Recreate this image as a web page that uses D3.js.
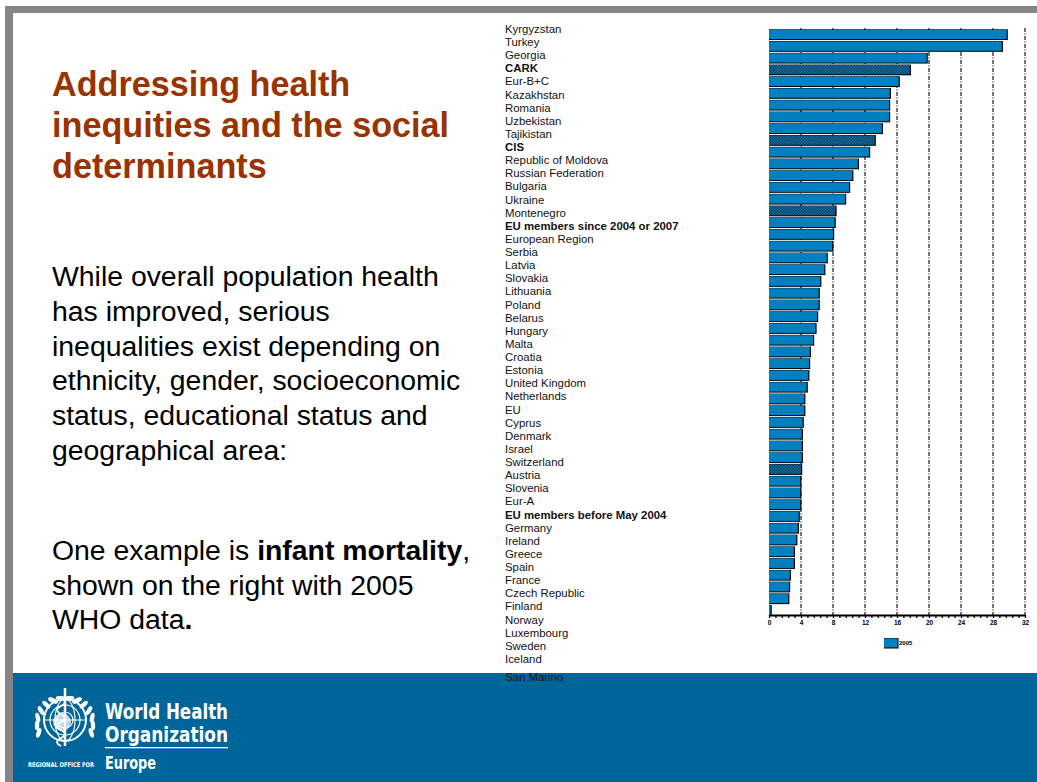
<!DOCTYPE html>
<html lang="en">
<head>
<meta charset="UTF-8">
<title>Addressing health inequities</title>
<style>
  html, body { margin: 0; padding: 0; background: #fff; }
  svg { display: block; font-family: "Liberation Sans", Arial, sans-serif; }
  .lbl { font-size: 11.4px; fill: #111; }
  .lbl.bold { font-weight: bold; }
  .axis text { font-size: 6.5px; font-weight: bold; }
</style>
</head>
<body>
<svg id="slide" width="1037" height="782"></svg>
<script src="https://cdnjs.cloudflare.com/ajax/libs/d3/7.8.5/d3.min.js"></script>
<script>
// infant mortality per 1000 live births, 2005 (WHO)
const countries = [
  "Kyrgyzstan", "Turkey", "Georgia", "CARK", "Eur-B+C", "Kazakhstan", "Romania",
  "Uzbekistan", "Tajikistan", "CIS", "Republic of Moldova", "Russian Federation",
  "Bulgaria", "Ukraine", "Montenegro", "EU members since 2004 or 2007",
  "European Region", "Serbia", "Latvia", "Slovakia", "Lithuania", "Poland",
  "Belarus", "Hungary", "Malta", "Croatia", "Estonia", "United Kingdom",
  "Netherlands", "EU", "Cyprus", "Denmark", "Israel", "Switzerland", "Austria",
  "Slovenia", "Eur-A", "EU members before May 2004", "Germany", "Ireland",
  "Greece", "Spain", "France", "Czech Republic", "Finland", "Norway",
  "Luxembourg", "Sweden", "Iceland", "San Marino"
];
const values2005 = [
  29.7, 29.1, 19.7, 17.6, 16.2, 15.1, 15.0, 15.0, 14.1, 13.2, 12.5, 11.1,
  10.4, 10.0, 9.5, 8.3, 8.2, 8.0, 7.9, 7.2, 6.9, 6.4, 6.2, 6.2, 6.0, 5.8,
  5.5, 5.1, 5.0, 4.9, 4.7, 4.4, 4.4, 4.2, 4.1, 4.1, 4.1, 4.0, 3.9, 3.9,
  3.9, 3.7, 3.6, 3.4, 3.1, 3.1, 2.6, 2.5, 2.4, 0.2
];
const aggregates = ["CARK", "CIS", "EU members since 2004 or 2007", "EU members before May 2004"];
const xTicks = [0, 4, 8, 12, 16, 20, 24, 28, 32];
const legendLabel = "2005";

const titleLines = ["Addressing health", "inequities and the social", "determinants"];
const bodyLines = [
  "While overall population health", "has improved, serious",
  "inequalities exist depending on", "ethnicity, gender, socioeconomic",
  "status, educational status and", "geographical area:"
];

const svg = d3.select("#slide");
const BLUE = "#0080c0";

// pattern for aggregate bars
const defs = svg.append("defs");
const pat = defs.append("pattern").attr("id", "checker")
  .attr("width", 3).attr("height", 3).attr("patternUnits", "userSpaceOnUse");
pat.append("rect").attr("width", 3).attr("height", 3).attr("fill", "#0a74ad");
pat.append("rect").attr("width", 1.5).attr("height", 1.5).attr("fill", "#123b5c");
pat.append("rect").attr("x", 1.5).attr("y", 1.5).attr("width", 1.5).attr("height", 1.5).attr("fill", "#123b5c");

// slide frame
svg.append("rect").attr("x", 5).attr("y", 6).attr("width", 1032).attr("height", 7).attr("fill", "#858585");
svg.append("rect").attr("x", 5).attr("y", 6).attr("width", 8).attr("height", 776).attr("fill", "#858585");
svg.append("rect").attr("x", 13).attr("y", 673).attr("width", 1024).attr("height", 109).attr("fill", "#006699");

// title and body text
svg.append("g").selectAll("text").data(titleLines).join("text")
  .attr("x", 52).attr("y", (d, i) => 96 + i * 41)
  .attr("fill", "#993300").attr("font-size", 34.2).attr("font-weight", "bold")
  .text(d => d);

svg.append("g").selectAll("text").data(bodyLines).join("text")
  .attr("x", 52).attr("y", (d, i) => 286 + i * 34.8)
  .attr("fill", "#000").attr("font-size", 28.4)
  .text(d => d);

const ex = svg.append("g").attr("font-size", 28.4).attr("fill", "#000");
const l1 = ex.append("text").attr("x", 52).attr("y", 560);
l1.append("tspan").text("One example is ");
l1.append("tspan").attr("font-weight", "bold").text("infant mortality");
l1.append("tspan").text(",");
ex.append("text").attr("x", 52).attr("y", 595).text("shown on the right with 2005");
const l3 = ex.append("text").attr("x", 52).attr("y", 629);
l3.append("tspan").text("WHO data");
l3.append("tspan").attr("font-weight", "bold").text(".");

// chart scales
const x = d3.scaleLinear().domain([0, 32]).range([769, 1025]);
const y = d3.scaleBand().domain(countries).range([29.3, 615.5]).paddingInner(0.12).paddingOuter(0);
const yLbl = d3.scalePoint().domain(countries).range([29, 672]);

// dashed gridlines
svg.append("g").selectAll("line").data(xTicks.slice(1)).join("line")
  .attr("x1", d => x(d)).attr("x2", d => x(d))
  .attr("y1", 28).attr("y2", 615)
  .attr("stroke", "#000").attr("stroke-width", 1.1)
  .attr("stroke-dasharray", "4,1.5,1,1.5");

// bars: black shadow then fill
const bars = svg.append("g").selectAll("g").data(countries).join("g");
bars.append("rect")
  .attr("x", x(0)).attr("y", d => y(d))
  .attr("width", (d, i) => x(values2005[i]) - x(0) + 1.2)
  .attr("height", y.bandwidth() + 0.4)
  .attr("fill", "#000");
bars.append("rect")
  .attr("x", x(0)).attr("y", d => y(d) + 0.4)
  .attr("width", (d, i) => x(values2005[i]) - x(0))
  .attr("height", y.bandwidth() - 1)
  .attr("fill", d => aggregates.includes(d) ? "url(#checker)" : BLUE);

// category labels (list is spaced more loosely than the bars)
svg.append("g").selectAll("text").data(countries).join("text")
  .attr("class", d => aggregates.includes(d) ? "lbl bold" : "lbl")
  .attr("x", 505)
  .attr("y", (d, i) => yLbl(d) + 4 + (i === countries.length - 1 ? 5 : 0))
  .text(d => d);

// x axis with minor ticks
const minor = d3.range(0, 32.01, 0.8);
svg.append("g").attr("transform", "translate(0,615)")
  .call(d3.axisBottom(x).tickValues(minor).tickSize(3).tickFormat(""))
  .call(g => g.select(".domain").remove())
  .call(g => g.selectAll(".tick line").attr("stroke-width", 1.3));
const ax = svg.append("g").attr("class", "axis").attr("transform", "translate(0,615)")
  .call(d3.axisBottom(x).tickValues(xTicks).tickSize(0).tickPadding(5).tickFormat(d3.format("d")));
ax.select(".domain").attr("stroke-width", 2);

// legend
const lg = svg.append("g").attr("transform", "translate(884,638)");
lg.append("rect").attr("width", 14.5).attr("height", 10.5).attr("fill", "#000");
lg.append("rect").attr("y", 0.4).attr("width", 13.5).attr("height", 9).attr("fill", BLUE);
lg.append("text").attr("x", 15).attr("y", 7).attr("font-size", 6).attr("font-weight", "bold").text(legendLabel);

// WHO logo
const logo = svg.append("g").attr("fill", "none").attr("stroke", "#fff");
const cx = 65, cy = 720;
logo.append("circle").attr("cx", cx).attr("cy", cy).attr("r", 21).attr("stroke-width", 2);
[8, 15].forEach(r => logo.append("circle").attr("cx", cx).attr("cy", cy).attr("r", r).attr("stroke-width", 1.2));
logo.append("ellipse").attr("cx", cx).attr("cy", cy).attr("rx", 10).attr("ry", 21).attr("stroke-width", 1.1);
logo.append("line").attr("x1", cx - 21).attr("x2", cx + 21).attr("y1", cy).attr("y2", cy).attr("stroke-width", 1.1);
logo.append("circle").attr("cx", cx - 3).attr("cy", cy + 2).attr("r", 9).attr("fill", "#fff").attr("opacity", 0.75).attr("stroke", "none");
logo.append("line").attr("x1", cx).attr("x2", cx).attr("y1", 688).attr("y2", 746).attr("stroke-width", 2.5);
logo.append("path").attr("d", `M${cx - 4},${cy - 22} q8,4 0,8 q-8,4 0,8 q8,4 0,8 q-8,4 0,8 q8,4 0,8 q-8,4 0,8`).attr("stroke-width", 1.8);
// laurel leaves
[-1, 1].forEach(s => {
  d3.range(0, 9).forEach(k => {
    const a = (200 - k * 17) * Math.PI / 180;
    const lx = cx + s * -Math.cos(a) * 28, ly = cy + 4 - Math.sin(a) * 26;
    logo.append("ellipse").attr("cx", lx).attr("cy", ly).attr("rx", 2.2).attr("ry", 5)
      .attr("fill", "#fff").attr("stroke", "none")
      .attr("transform", `rotate(${s * (k * 17 - 20)},${lx},${ly})`);
  });
});

const wt = svg.append("g").attr("fill", "#fff").attr("font-weight", "bold")
  .attr("font-family", "'Liberation Sans Narrow', 'DejaVu Sans Condensed', 'Liberation Sans', sans-serif");
wt.append("text").attr("x", 105).attr("y", 719).attr("font-size", 21).attr("textLength", 123).attr("lengthAdjust", "spacingAndGlyphs").text("World Health");
wt.append("text").attr("x", 105).attr("y", 742).attr("font-size", 21).attr("textLength", 123).attr("lengthAdjust", "spacingAndGlyphs").text("Organization");
svg.append("rect").attr("x", 105).attr("y", 747).attr("width", 123).attr("height", 1.3).attr("fill", "#fff");
wt.append("text").attr("x", 105).attr("y", 769).attr("font-size", 17).attr("textLength", 51).attr("lengthAdjust", "spacingAndGlyphs").text("Europe");
wt.append("text").attr("x", 28).attr("y", 767).attr("font-size", 6.5).attr("textLength", 66).attr("lengthAdjust", "spacingAndGlyphs").text("REGIONAL OFFICE FOR");
</script>
</body>
</html>
